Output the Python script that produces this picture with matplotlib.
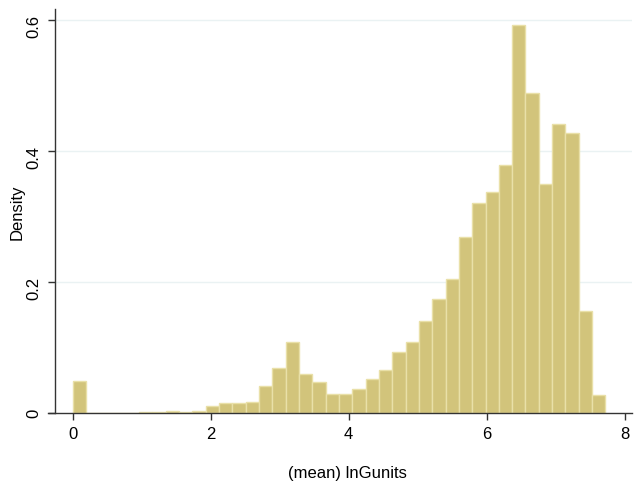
import numpy as np
import matplotlib
matplotlib.use("Agg")
import matplotlib.pyplot as plt

plt.rcParams['font.family'] = ['Liberation Sans', 'DejaVu Sans']

# Histogram: 40 bins from 0 to 7.72, density values
bin_lo = 0.0
bin_hi = 7.72
n_bins = 40
density = [0.049, 0.0, 0.0, 0.0008, 0.0008, 0.0015, 0.002, 0.004, 0.0015, 0.003,
           0.011, 0.015, 0.015, 0.017, 0.041, 0.069, 0.108, 0.060, 0.048, 0.029,
           0.029, 0.037, 0.053, 0.066, 0.093, 0.109, 0.141, 0.174, 0.205, 0.269,
           0.321, 0.337, 0.379, 0.592, 0.488, 0.350, 0.442, 0.428, 0.156, 0.028]
x_ticks = [0, 2, 4, 6, 8]
y_ticks = [0, 0.2, 0.4, 0.6]
y_ticklabels = ["0", "0.2", "0.4", "0.6"]
x_label = "(mean) lnGunits"
y_label = "Density"

edges = np.linspace(bin_lo, bin_hi, n_bins + 1)
widths = np.diff(edges)

W, H = 636, 485
fig = plt.figure(figsize=(W / 100, H / 100), dpi=100)
left_px, right_px, top_px, bot_px = 48.3, 632, 10, 414.3
ax = fig.add_axes([left_px / W, 1 - bot_px / H, (right_px - left_px) / W, (bot_px - top_px) / H])

ax.bar(edges[:-1], density, width=widths, align='edge',
       color='#d2c47b', edgecolor='#e9e0a8', linewidth=1.0, zorder=2)

ax.set_xlim(-0.351, 8.105)
ax.set_ylim(0, 0.6167)

ax.set_xticks(x_ticks)
ax.set_yticks(y_ticks)
ax.set_yticklabels(y_ticklabels)
ax.tick_params(axis='both', labelsize=12, length=5, width=1, color='#333333',
               direction='out', pad=4.5)
ax.tick_params(axis='y', labelrotation=90)
for lbl in ax.get_yticklabels():
    lbl.set_va('center')

for y in y_ticks[1:]:
    ax.axhline(y, color='#eaf2f3', linewidth=1.0, zorder=1)

for s in ['top', 'right']:
    ax.spines[s].set_visible(False)
ax.spines['left'].set_position(('data', -0.261))
ax.spines['left'].set_color('#333333')
ax.spines['bottom'].set_color('#333333')
ax.spines['left'].set_linewidth(1.0)
ax.spines['bottom'].set_linewidth(1.0)

ax.set_xlabel(x_label, fontsize=12)
ax.set_ylabel(y_label, fontsize=12)
ax.xaxis.set_label_coords((347.5 - left_px) / (right_px - left_px), (bot_px - 474) / (bot_px - top_px))
ax.xaxis.label.set_va('center')
ax.yaxis.set_label_coords((17 - left_px) / (right_px - left_px), 0.5)
ax.yaxis.label.set_va('center')

fig.savefig("out.png", dpi=100)
